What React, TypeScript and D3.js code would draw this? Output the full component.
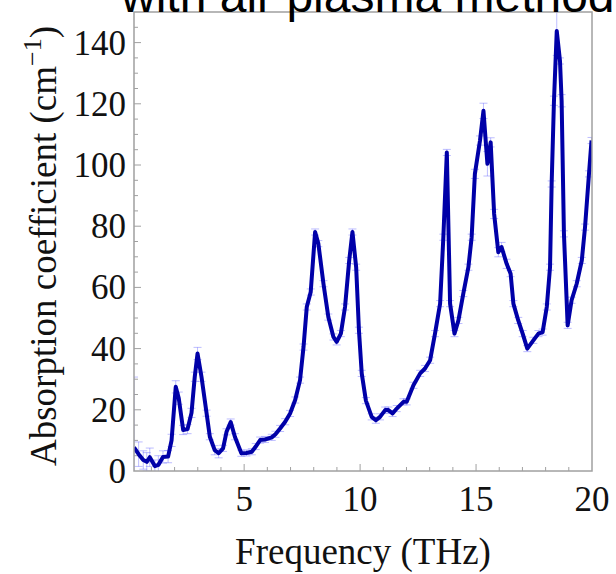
import React from "react";
import * as d3 from "d3";

const freq = [0.25, 0.45, 0.65, 0.8, 0.93, 1.15, 1.3, 1.5, 1.72, 1.87, 2.05, 2.18, 2.37, 2.56, 2.73, 2.87, 2.99, 3.16, 3.38, 3.52, 3.73, 3.9, 4.09, 4.24, 4.42, 4.6, 4.88, 5.1, 5.33, 5.5, 5.69, 5.9, 6.19, 6.35, 6.55, 6.77, 6.98, 7.2, 7.41, 7.56, 7.7, 7.87, 8.06, 8.2, 8.42, 8.63, 8.85, 8.99, 9.17, 9.35, 9.53, 9.67, 9.83, 9.95, 10.07, 10.25, 10.5, 10.68, 10.86, 11.08, 11.22, 11.4, 11.58, 11.87, 12.01, 12.3, 12.59, 12.8, 13.02, 13.23, 13.45, 13.59, 13.74, 13.88, 14.07, 14.24, 14.45, 14.67, 14.81, 14.95, 15.17, 15.32, 15.49, 15.63, 15.78, 15.96, 16.1, 16.32, 16.49, 16.61, 16.82, 17.01, 17.21, 17.47, 17.69, 17.87, 18.05, 18.19, 18.26, 18.36, 18.48, 18.62, 18.69, 18.79, 18.95, 19.12, 19.34, 19.56, 19.7, 19.87, 19.98];
const alpha = [7.7, 5.5, 3.6, 3.0, 4.5, 1.6, 2.0, 4.6, 4.7, 10, 27.5, 23.8, 13.4, 13.7, 19, 30.8, 38.4, 30.8, 18.9, 11.2, 6.8, 5.8, 7.4, 12.8, 16, 11.2, 5.8, 5.9, 6.3, 8, 10.1, 10.3, 11.0, 12.0, 13.9, 16.1, 18.8, 23.2, 29.7, 40.5, 53.6, 58.5, 78.1, 74.3, 61.2, 50.3, 43.8, 42.2, 44.9, 53.6, 68.8, 78.1, 66.6, 46, 31.9, 23, 17.7, 16.6, 17.7, 19.9, 19.9, 18.8, 20.4, 22.6, 22.6, 28, 31.9, 33.5, 36.2, 44.9, 54.7, 76.4, 104.1, 54.7, 44.9, 49.2, 58, 66.6, 76.4, 97.1, 108, 117.7, 100.4, 107.4, 84, 71.5, 73.2, 67.7, 64.5, 54.7, 49.2, 44.9, 40, 42.7, 44.9, 45.4, 53.6, 66.6, 93.8, 121, 143.8, 134, 121, 77.5, 47.6, 55.8, 61.2, 68.8, 79.7, 97.1, 108];
const errs = [23, 4, 3, 3, 3, 2, 3, 2, 2, 2, 2, 2, 1.5, 1.5, 1.5, 1.5, 2, 1.5, 1, 1, 1.5, 1.5, 1, 1, 1, 1, 1, 1, 1, 1, 1, 1, 1, 1, 1, 1, 1, 1, 1, 1, 1, 1, 1, 1, 1, 1, 1, 1, 1, 1, 1, 1, 1, 1, 1, 1, 1, 1, 1, 1, 1, 1, 1, 1, 1, 1, 1, 1, 1, 1, 1, 1, 1, 1, 1, 1, 1, 1, 1, 1.5, 1.5, 2.5, 4, 1.5, 1.5, 1.5, 1.5, 1.5, 1, 1, 1, 1, 1, 1, 1, 1, 1, 1, 1, 1.5, 8, 1, 2, 1, 1, 1, 1, 1, 1, 1, 1];

const xTicks = [5, 10, 15, 20];
const yTicks = [0, 20, 40, 60, 80, 100, 120, 140];
const xMinor = d3.range(1, 20, 1);
const yMinor = d3.range(5, 150, 5);

const titleText = "with air plasma method";
const xLabel = "Frequency (THz)";
const yLabelMain = "Absorption coefficient (cm";
const yLabelSup = "\u22121";

export default function App() {
  const W = 616, H = 574;
  const L = 134, R = 592, T = 12, B = 471;
  const x = d3.scaleLinear().domain([0.25, 20]).range([L, R]);
  const y = d3.scaleLinear().domain([0, 150]).range([B, T]);
  const pts = freq.map((f, i) => [f, alpha[i]] as [number, number]);
  const line = d3.line<[number, number]>().x(d => x(d[0])).y(d => y(d[1]));
  const gray = "#a0a0a0";
  const serif = "'Liberation Serif', 'Times New Roman', serif";
  return (
    <svg width={W} height={H} style={{ position: "absolute", left: 0, top: 0, background: "#fff" }}>
      <defs>
        <clipPath id="plot">
          <rect x={L} y={T} width={R - L} height={B - T} />
        </clipPath>
      </defs>
      <rect x={0} y={0} width={W} height={H} fill="#fff" />
      {xMinor.map(t => (
        <line key={"xm" + t} x1={x(t)} x2={x(t)} y1={B} y2={B - (t % 5 === 0 ? 7 : 4)} stroke={gray} strokeWidth={1} />
      ))}
      {yMinor.map(t => (
        <line key={"ym" + t} x1={L} x2={L + (t % 20 === 0 ? 7 : 4)} y1={y(t)} y2={y(t)} stroke={gray} strokeWidth={1} />
      ))}
      <g clipPath="url(#plot)">
        {pts.map((d, i) => {
          const cx = x(d[0]);
          const y1 = y(d[1] - errs[i]);
          const y2 = y(d[1] + errs[i]);
          return (
            <g key={"e" + i} stroke="rgba(90,90,255,0.4)" strokeWidth={1}>
              <line x1={cx} x2={cx} y1={y1} y2={y2} />
              <line x1={cx - 4} x2={cx + 4} y1={y1} y2={y1} />
              <line x1={cx - 4} x2={cx + 4} y1={y2} y2={y2} />
            </g>
          );
        })}
        <path d={line(pts) || ""} fill="none" stroke="#0000a8" strokeWidth={4} strokeLinejoin="round" />
      </g>
      <rect x={L} y={T} width={R - L} height={B - T} fill="none" stroke={gray} strokeWidth={1.5} />
      {xTicks.map(t => (
        <text key={"xl" + t} x={x(t)} y={511} textAnchor="middle" fontFamily={serif} fontSize={35} fill="#111">{t}</text>
      ))}
      {yTicks.map(t => (
        <text key={"yl" + t} x={126} y={y(t)} dy="0.34em" textAnchor="end" fontFamily={serif} fontSize={35} fill="#111">{t}</text>
      ))}
      <text x={363} y={564} textAnchor="middle" fontFamily={serif} fontSize={37} fill="#111">{xLabel}</text>
      <text transform="translate(56,246) rotate(-90)" textAnchor="middle" fontFamily={serif} fontSize={37} fill="#111">
        {yLabelMain}
        <tspan fontSize={26} dy={-15}>{yLabelSup}</tspan>
        <tspan dy={15}>)</tspan>
      </text>
      <text x={121} y={12} fontFamily="'Liberation Sans', Arial, sans-serif" fontSize={48} fill="#000">{titleText}</text>
    </svg>
  );
}
